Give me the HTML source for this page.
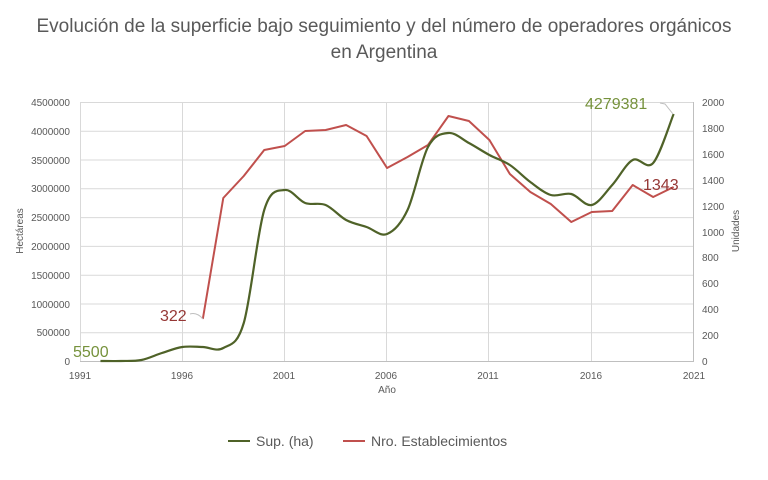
<!DOCTYPE html>
<html><head><meta charset="utf-8"><style>
body{margin:0;background:#fff;}
svg text{font-family:"Liberation Sans",sans-serif;}
</style></head><body>
<svg id="s" width="768" height="475" xmlns="http://www.w3.org/2000/svg">
<text x="384" y="32" text-anchor="middle" font-size="19" fill="#595959">Evolución de la superficie bajo seguimiento y del número de operadores orgánicos</text>
<text x="384" y="58" text-anchor="middle" font-size="19" fill="#595959">en Argentina</text>
<g stroke="#d9d9d9" stroke-width="1">
<line x1="80" y1="102.5" x2="694" y2="102.5"/><line x1="80" y1="131.3" x2="694" y2="131.3"/>
<line x1="80" y1="160" x2="694" y2="160"/><line x1="80" y1="188.8" x2="694" y2="188.8"/>
<line x1="80" y1="217.6" x2="694" y2="217.6"/><line x1="80" y1="246.4" x2="694" y2="246.4"/>
<line x1="80" y1="275.2" x2="694" y2="275.2"/><line x1="80" y1="304" x2="694" y2="304"/>
<line x1="80" y1="332.8" x2="694" y2="332.8"/>
<line x1="80.5" y1="102" x2="80.5" y2="361"/><line x1="182.5" y1="102" x2="182.5" y2="361"/>
<line x1="284.5" y1="102" x2="284.5" y2="361"/><line x1="386.5" y1="102" x2="386.5" y2="361"/>
<line x1="488.5" y1="102" x2="488.5" y2="361"/><line x1="591.5" y1="102" x2="591.5" y2="361"/>
</g>
<line x1="80" y1="361.5" x2="694" y2="361.5" stroke="#bfbfbf"/>
<line x1="693.5" y1="102" x2="693.5" y2="361" stroke="#bfbfbf"/>
<g font-size="10" fill="#595959" text-anchor="end">
<text x="70" y="106">4500000</text><text x="70" y="135">4000000</text><text x="70" y="164">3500000</text>
<text x="70" y="192">3000000</text><text x="70" y="221">2500000</text><text x="70" y="250">2000000</text>
<text x="70" y="279">1500000</text><text x="70" y="308">1000000</text><text x="70" y="336">500000</text>
<text x="70" y="365">0</text>
</g>
<g font-size="10" fill="#595959">
<text x="702" y="106">2000</text><text x="702" y="132">1800</text><text x="702" y="158">1600</text>
<text x="702" y="184">1400</text><text x="702" y="210">1200</text><text x="702" y="236">1000</text>
<text x="702" y="261">800</text><text x="702" y="287">600</text><text x="702" y="313">400</text>
<text x="702" y="339">200</text><text x="702" y="365">0</text>
</g>
<g font-size="10" fill="#595959" text-anchor="middle">
<text x="80" y="379">1991</text><text x="182" y="379">1996</text><text x="284" y="379">2001</text>
<text x="386" y="379">2006</text><text x="488" y="379">2011</text><text x="591" y="379">2016</text>
<text x="694" y="379">2021</text><text x="387" y="393">Año</text>
</g>
<text transform="translate(23,231) rotate(-90)" font-size="10" fill="#595959" text-anchor="middle">Hectáreas</text>
<text transform="translate(739,231) rotate(-90)" font-size="10" fill="#595959" text-anchor="middle">Unidades</text>
<path id="red" fill="none" stroke="#c0504d" stroke-width="2" stroke-linejoin="round"/>
<path id="grn" fill="none" stroke="#4f6228" stroke-width="2.2"/>
<path d="M190,314 Q197,312 203,319" fill="none" stroke="#bfbfbf"/>
<path d="M660,103 L665,104 L673,114" fill="none" stroke="#bfbfbf"/>
<text x="160" y="321" font-size="16" fill="#953735">322</text>
<text x="73" y="357" font-size="16" fill="#76923c">5500</text>
<text x="585" y="109" font-size="16" fill="#76923c">4279381</text>
<text x="643" y="190" font-size="16" fill="#953735">1343</text>
<line x1="228" y1="441" x2="250" y2="441" stroke="#4f6228" stroke-width="2"/>
<text x="256" y="446" font-size="14" fill="#595959">Sup. (ha)</text>
<line x1="343" y1="441" x2="365" y2="441" stroke="#c0504d" stroke-width="2"/>
<text x="371" y="446" font-size="14" fill="#595959">Nro. Establecimientos</text>
</svg>
<script>
var X=function(y){return 80+(y-1991)*20.47;};
var g=[[1992,361],[1993,361],[1994,360],[1995,353],[1996,347],[1997,347],[1998,348],[1999,323],[2000,210],[2001,190],[2002,203],[2003,205],[2004,220],[2005,227],[2006,234],[2007,210],[2008,147],[2009,133],[2010,143],[2011,155],[2012,165],[2013,182],[2014,195],[2015,194],[2016,205],[2017,185],[2018,160],[2019,163],[2020,114]];
var r=[[1997,319],[1998,198],[1999,176],[2000,150],[2001,146],[2002,131],[2003,130],[2004,125],[2005,136],[2006,168],[2007,157],[2008,145],[2009,116],[2010,121],[2011,140],[2012,174],[2013,192],[2014,204],[2015,222],[2016,212],[2017,211],[2018,185],[2019,197],[2020,187]];
var P=g.map(function(p){return [X(p[0]),p[1]];});
var d="M"+P[0][0]+","+P[0][1];
for(var i=0;i<P.length-1;i++){var p0=P[i-1]||P[i],p1=P[i],p2=P[i+1],p3=P[i+2]||p2;
d+=" C"+(p1[0]+(p2[0]-p0[0])/6)+","+(p1[1]+(p2[1]-p0[1])/6)+" "+(p2[0]-(p3[0]-p1[0])/6)+","+(p2[1]-(p3[1]-p1[1])/6)+" "+p2[0]+","+p2[1];}
document.getElementById("grn").setAttribute("d",d);
document.getElementById("red").setAttribute("d","M"+r.map(function(p){return X(p[0])+","+p[1];}).join(" L"));
</script>
</body></html>
